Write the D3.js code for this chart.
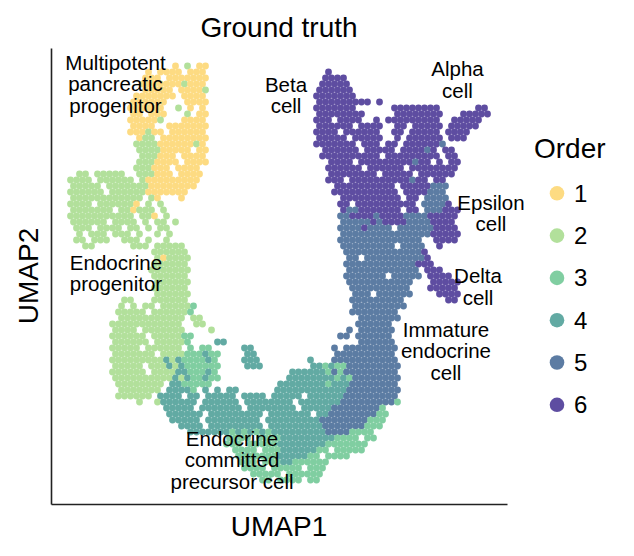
<!DOCTYPE html>
<html>
<head>
<meta charset="utf-8">
<script src="https://cdn.jsdelivr.net/npm/d3@7"></script>
<style>
  body { margin: 0; background: #fff; }
  svg text { font-family: "Liberation Sans", Arial, Helvetica, sans-serif; fill: #000; }
</style>
</head>
<body>
<div id="chart"></div>
<script>
// ===================== DATA =====================
const orders = ["1", "2", "3", "4", "5", "6"];
const orderColors = ["#fddb82", "#b2e09b", "#80cea1", "#62aaa3", "#5c7ca3", "#5e4da1"];

// cells binned on a 76 x 76 UMAP grid, row 0 = top
// each row: "startCol:codes" segments, code = order, "." = no cell
const cellRows = [
  "", "", "",
  "20:1.2.11",
  "16:1.1111.111|46:6",
  "15:111.1111111|45:6666",
  "15:11111112111|45:66666",
  "15:11111.11112|44:666666",
  "14:1111111.1111|44:6666666",
  "13:111111...1111|44:666666666.6",
  "13:111111..2.1.1|44:6666666|57:66666666|71:66",
  "13:11.111|22:2.11|44:66666666|57:66666666|68:66666",
  "13:111112...1111|44:666.6666..6.666666666|67:66666",
  "13:1111..1111111|44:666666.6666..66.66666|66:66666",
  "13:111211.111111|44:6666.666666..66.66666.6666",
  "14:122.11111111|44:66666.66666..6.666666.666",
  "14:222211111121|44:6666666.666.66.6666665",
  "14:222211111.11|45:666666.66666.666656.66",
  "15:222111.1111|45:6666666666.666666666.66",
  "14:2221111.1111|46:6666.666666666566.6.66",
  "14:222111.1111|46:666666.666666.66666666",
  "4:22.22222|14:222111.1111|46:66666666.66666.666666",
  "3:2222.222222|15:2111111111|46:666.6666666666566.66",
  "3:22222.222222|15:211111111|47:6666666666.66666555",
  "3:222222.22222|15:21111111|47:66666666666.6666555",
  "3:222222222222|16:21...1|48:6666666666.66|62:5555",
  "3:2222.2222221.2.2|48:66.6666666666|62:55556",
  "3:2222222.221222.2|48:6556666666.66|62:555666",
  "3:22222222222.221.2|48:55666656666555566666",
  "3:222222.2222.2.22.2|48:5555565666655556666",
  "4:222.2222.22.2.22|48:555565555.55555|63:56666",
  "4:2.222.222.2..2.2|48:555555555555555|63:66666",
  "4:22.222..222.2..2|48:55555555555555|64:6666",
  "5:22......222.22222|48:555555555.5555|64:6",
  "17:222222|49:5555555555555|62:6",
  "17:212222|49:55.55555555556",
  "17:222222|49:555555555555666",
  "16:2222222|49:555555555555.666",
  "17:222222|49:5555555.55555.6666",
  "17:222222|49:55555555555|63:66666",
  "17:222222|50:5555555555|63:66666",
  "17:222222|50:555.555555|64:6666",
  "12:22...222222|50:555555555|66:66",
  "11:2.2.22.222223|50:555555555",
  "11:22222.2222223|50:55555555",
  "11:22222222222.22|51:5555555",
  "10:222222222222..22|51:555555",
  "10:2222.2222222....2|49:5.555555",
  "10:222222.2222233|48:55.555555",
  "10:222222.222223....44|51:555555",
  "10:22222.222222.3.33.....44|47:5.555555555",
  "10:2222222.2222333433....44|47:5555555555",
  "10:222222222424333343....444|43:4...55555555555",
  "10:22222.222424333333....444|43:443433555555555",
  "10:222222.22224433343|40:444444353555555555",
  "10:222222222242433433|39:4444444434355555555",
  "11:22222222.4433333|38:44444444344455555555",
  "11:2222222.44443.4.4.44|37:444444444444555555555",
  "11:222222.4444.44.44444.4444.44444.444444555555555",
  "14:2..2444444.444444.44444444.44444445555555553",
  "19:44444.4444444.44444444.44444555555553",
  "19:444444.444444444.4444444.445555555533",
  "20:44444.444444444.44444444455555555333",
  "21:4444.444444444.4444444445555555333",
  "23:4444444343434344444444455553333",
  "29:3333.33334444444443333.33",
  "29:333.33333444444443333333",
  "30:3333.33344444433.33333",
  "31:33333334444433.3333",
  "31:333.33344333333",
  "32:3333.33333.333",
  "33:33333.333333",
  "35:33.3333.33"
];

// cell type annotations, anchored in UMAP grid units
const cellTypeLines = [
  ["Multipotent", "pancreatic", "progenitor"],
  ["Beta", "cell"],
  ["Alpha", "cell"],
  ["Epsilon", "cell"],
  ["Delta", "cell"],
  ["Immature", "endocrine", "cell"],
  ["Endocrine", "progenitor"],
  ["Endocrine", "committed", "precursor cell"]
];
const cellTypeUmap1 = [10.75, 39.17, 67.75, 73.33, 71.17, 65.83, 10.83, 30.17];
const cellTypeUmap2 = [70.0, 68.08, 70.67, 48.42, 36.17, 25.5, 38.42, 7.33];

// ===================== CHART =====================
const width = 634, height = 556;
const gridSize = 76;

const svg = d3.select("#chart").append("svg")
  .attr("width", width)
  .attr("height", height);

const x = d3.scaleLinear().domain([0, gridSize]).range([51, 507]);
const y = d3.scaleLinear().domain([0, gridSize]).range([504, 48]);
const color = d3.scaleOrdinal().domain(orders).range(orderColors);

// unpack the rows into cells
const cells = [];
cellRows.forEach((row, r) => {
  if (!row) return;
  row.split("|").forEach(seg => {
    const [start, codes] = seg.split(":");
    [...codes].forEach((ch, i) => {
      if (ch !== ".") cells.push({ col: +start + i, row: r, order: ch });
    });
  });
});

svg.append("g")
  .selectAll("circle")
  .data(cells)
  .enter()
  .append("circle")
  .attr("cx", d => x(d.col + (d.row % 2 ? 0.75 : 0.25)))
  .attr("cy", d => y(gridSize - d.row))
  .attr("r", 3.4)
  .attr("fill", d => color(d.order));

// spines only, no ticks
svg.append("g")
  .attr("transform", `translate(0,${y(0)})`)
  .call(d3.axisBottom(x).tickValues([]).tickSizeOuter(0))
  .select(".domain").attr("stroke", "#222").attr("stroke-width", 1.6);
svg.append("g")
  .attr("transform", `translate(${x(0)},0)`)
  .call(d3.axisLeft(y).tickValues([]).tickSizeOuter(0))
  .select(".domain").attr("stroke", "#222").attr("stroke-width", 1.6);

// annotations
const lineH = 21.5;
cellTypeLines.forEach((lines, i) => {
  const cx = x(cellTypeUmap1[i]), cy = y(cellTypeUmap2[i]);
  const t = svg.append("text")
    .attr("text-anchor", "middle")
    .attr("font-size", 20.5);
  lines.forEach((ln, j) => {
    t.append("tspan")
      .attr("x", cx)
      .attr("y", cy + 7 + (j - (lines.length - 1) / 2) * lineH)
      .text(ln);
  });
});

// title and axis labels
svg.append("text")
  .attr("x", (x(0) + x(gridSize)) / 2).attr("y", 37)
  .attr("text-anchor", "middle").attr("font-size", 28)
  .text("Ground truth");
svg.append("text")
  .attr("x", (x(0) + x(gridSize)) / 2).attr("y", 536)
  .attr("text-anchor", "middle").attr("font-size", 28)
  .text("UMAP1");
svg.append("text")
  .attr("transform", `translate(38,${(y(0) + y(gridSize)) / 2}) rotate(-90)`)
  .attr("text-anchor", "middle").attr("font-size", 28)
  .text("UMAP2");

// legend
const legend = svg.append("g");
legend.append("text")
  .attr("x", 534).attr("y", 158)
  .attr("font-size", 28)
  .text("Order");
const items = legend.selectAll("g.item")
  .data(orders)
  .enter()
  .append("g")
  .attr("class", "item")
  .attr("transform", (d, i) => `translate(557,${193.3 + i * 42.3})`);
items.append("circle").attr("r", 7.3).attr("fill", d => color(d));
items.append("text")
  .attr("x", 17).attr("y", 8.5)
  .attr("font-size", 24)
  .text(d => d);
</script>
</body>
</html>
